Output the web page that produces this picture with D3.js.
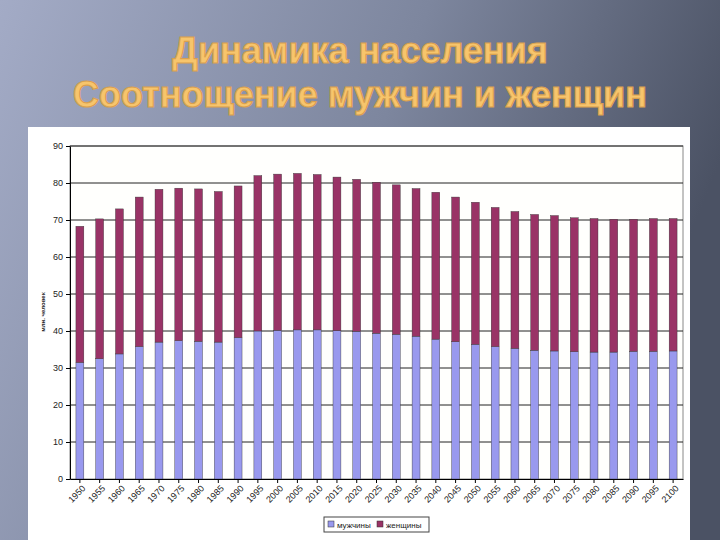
<!DOCTYPE html>
<html><head><meta charset="utf-8">
<script src="https://cdn.jsdelivr.net/npm/d3@7"></script>
<style>body{margin:0}svg{display:block}</style>
</head><body><div id="chart"></div>
<script>
var years = d3.range(1950, 2101, 5).map(String);
var men = [31.5,32.5,33.8,35.8,37,37.4,37.2,37,38.2,40,40.2,40.3,40.3,40.1,39.9,39.4,39.1,38.6,37.8,37.1,36.4,35.8,35.3,34.8,34.6,34.4,34.3,34.3,34.5,34.5,34.6];
var total = [68.3,70.3,73,76.2,78.3,78.6,78.4,77.7,79.2,82,82.4,82.6,82.3,81.6,81,80.2,79.5,78.5,77.5,76.2,74.8,73.4,72.3,71.5,71.2,70.6,70.4,70.2,70.2,70.4,70.4];
var women = total.map(function (t, i) { return +(t - men[i]).toFixed(1); });
var yTicks = d3.range(0, 91, 10);

var svg = d3.select("#chart").append("svg").attr("width", 720).attr("height", 540);
var defs = svg.append("defs");
var g = defs.append("linearGradient").attr("id", "bg").attr("x1", 0).attr("y1", 0).attr("x2", 1).attr("y2", 0.3);
g.append("stop").attr("offset", 0).attr("stop-color", "#a3abc6");
g.append("stop").attr("offset", 0.55).attr("stop-color", "#7d869e");
g.append("stop").attr("offset", 1).attr("stop-color", "#4b5264");
svg.append("rect").attr("width", 720).attr("height", 540).attr("fill", "url(#bg)");

svg.append("text").attr("x", 360).attr("y", 63).attr("text-anchor", "middle")
    .style("font", "bold 36px 'Liberation Sans', Arial").attr("fill", "#f7c56c")
    .attr("stroke", "#d9a04f").attr("stroke-width", 1.2).text("Динамика населения");
svg.append("text").attr("x", 360).attr("y", 107).attr("text-anchor", "middle")
    .style("font", "bold 36px 'Liberation Sans', Arial").attr("fill", "#f7c56c")
    .attr("stroke", "#d9a04f").attr("stroke-width", 1.2).text("Соотнощение мужчин и женщин");

// white panel
svg.append("rect").attr("x", 28).attr("y", 127).attr("width", 662).attr("height", 413).attr("fill", "#fff");

var margin = {left: 70, right: 683, top: 146, bottom: 479};
var x = d3.scaleBand().domain(years).range([margin.left, margin.right]).paddingInner(0.6).paddingOuter(0.3);
var y = d3.scaleLinear().domain([0, 90]).range([margin.bottom, margin.top]);

svg.append("rect").attr("x", margin.left).attr("y", margin.top)
    .attr("width", margin.right - margin.left).attr("height", margin.bottom - margin.top)
    .attr("fill", "#fffffd").attr("stroke", "#888");

svg.append("g").selectAll("line").data(yTicks.slice(1)).enter().append("line")
    .attr("x1", margin.left).attr("x2", margin.right)
    .attr("y1", function (d) { return y(d); }).attr("y2", function (d) { return y(d); })
    .attr("stroke", "#222").attr("stroke-width", 1);

var bars = svg.append("g");
bars.selectAll(".m").data(men).enter().append("rect")
    .attr("x", function (d, i) { return x(years[i]); }).attr("width", x.bandwidth())
    .attr("y", function (d) { return y(d); }).attr("height", function (d) { return y(0) - y(d); })
    .attr("fill", "#9999ee").attr("stroke", "#333").attr("stroke-width", 0.4);
bars.selectAll(".w").data(women).enter().append("rect")
    .attr("x", function (d, i) { return x(years[i]); }).attr("width", x.bandwidth())
    .attr("y", function (d, i) { return y(total[i]); })
    .attr("height", function (d, i) { return y(men[i]) - y(total[i]); })
    .attr("fill", "#993366").attr("stroke", "#333").attr("stroke-width", 0.4);

var yAxis = svg.append("g").attr("transform", "translate(" + margin.left + ",0)")
    .call(d3.axisLeft(y).tickValues(yTicks).tickSize(4).tickSizeOuter(0));
yAxis.selectAll("text").style("font", "9px 'Liberation Sans', Arial").attr("fill", "#222");

var xAxis = svg.append("g").attr("transform", "translate(0," + margin.bottom + ")")
    .call(d3.axisBottom(x).tickSize(4).tickSizeOuter(0));
xAxis.selectAll("text").style("font", "9px 'Liberation Sans', Arial").attr("fill", "#222")
    .style("text-anchor", "end").attr("dx", "-.3em").attr("dy", ".5em")
    .attr("transform", "rotate(-45)");

svg.append("text").attr("transform", "translate(45,312) rotate(-90)").attr("text-anchor", "middle")
    .style("font", "bold 6px 'Liberation Sans', Arial").attr("fill", "#222").text("млн. человек");

// legend
var lg = svg.append("g").attr("transform", "translate(324,517)");
lg.append("rect").attr("width", 105).attr("height", 15).attr("fill", "#fff").attr("stroke", "#444");
[["мужчины", "#9999ee", 4], ["женщины", "#993366", 53]].forEach(function (d) {
    lg.append("rect").attr("x", d[2]).attr("y", 4).attr("width", 6).attr("height", 6).attr("fill", d[1]).attr("stroke", "#333").attr("stroke-width", 0.5);
    lg.append("text").attr("x", d[2] + 9).attr("y", 11).style("font", "8px 'Liberation Sans', Arial").attr("fill", "#222").text(d[0]);
});
</script></body></html>
